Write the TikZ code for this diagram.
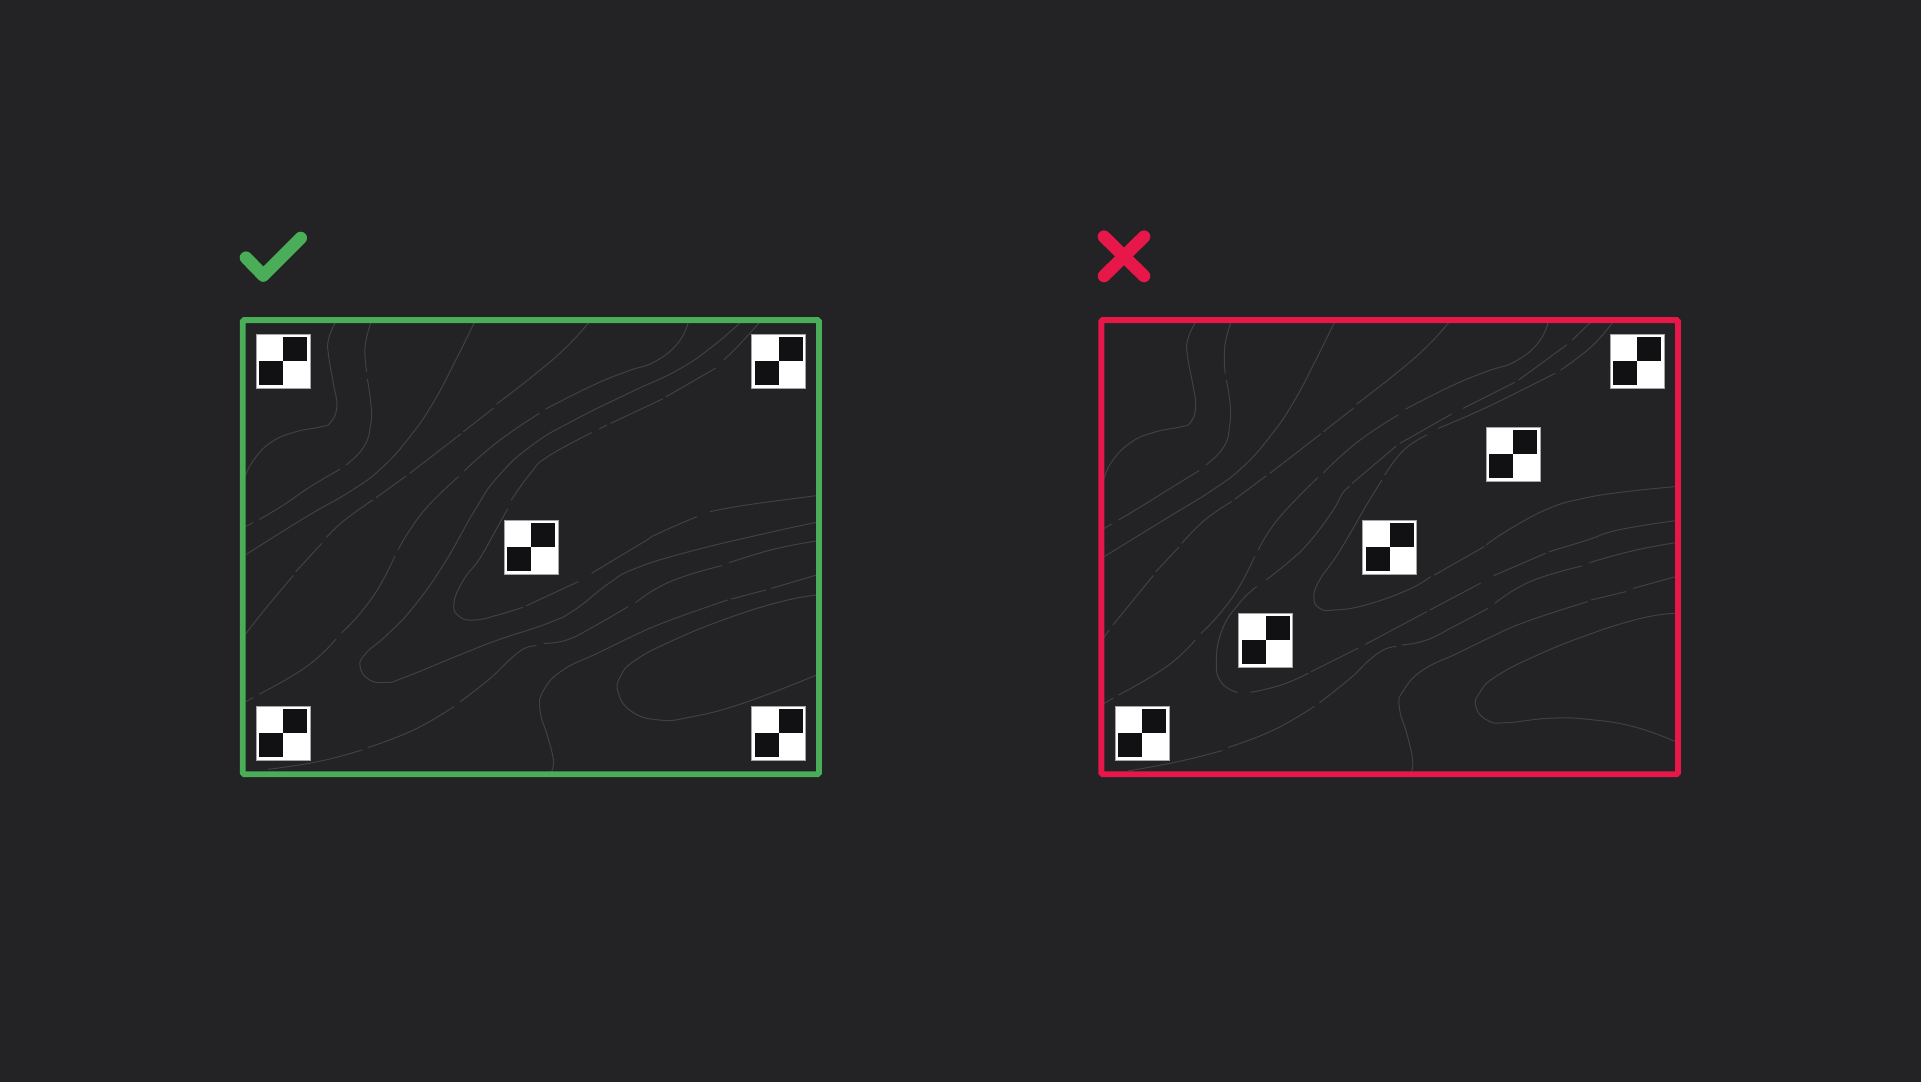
\documentclass[tikz,border=0pt]{standalone}
\definecolor{bgdark}{HTML}{232325}
\definecolor{okgreen}{HTML}{4AAD57}
\definecolor{badred}{HTML}{E7174A}
\definecolor{contourgray}{HTML}{414144}
\definecolor{cellblack}{HTML}{111114}
\tikzset{
  contour/.style={draw=contourgray, line width=1pt, line cap=round},
  frame/.style={line width=5.9pt, rounded corners=1.5pt},
  sign/.style={line width=12.6pt, line cap=round, line join=round},
  checker/.pic={
    \fill[white] (-27,-27) rectangle (27,27);
    \draw[gray!70, line width=0.4pt] (-27,-27) rectangle (27,27);
    \fill[cellblack] (0,-24) rectangle (24,0);
    \fill[cellblack] (-24,0) rectangle (0,24);
  }
}
\newcommand{\seg}[1]{\draw[contour] plot[smooth, tension=0.8] coordinates {#1};}
\begin{document}
\begin{tikzpicture}[x=1pt, y=-1pt]
\useasboundingbox (0,0) rectangle (1921,1081);
\fill[bgdark] (-5,-5) rectangle (1926,1086);
% left panel contours
\begin{scope}[shift={(230,310)}, xscale=0.3827, yscale=0.3333]
\seg{(275,38) (257,90) (258,140) (270,220) (279,290) (262,338) (235,351) (170,366) (110,395) (65,445) (40,497)}
\seg{(368,38) (353,110) (357,185)}
\seg{(359,208) (368,280) (368,340) (350,410) (303,465)}
\seg{(287,478) (210,530) (140,585) (77,628)}
\seg{(60,638) (40,650)}
\seg{(638,38) (590,150) (530,280) (470,380) (400,470) (320,540) (200,620) (40,735)}
\seg{(937,38) (880,110) (800,190) (697,282)}
\seg{(688,295) (610,365)}
\seg{(603,372) (470,490)}
\seg{(460,498) (382,563)}
\seg{(373,570) (300,630) (252,682)}
\seg{(240,700) (172,785)}
\seg{(165,797) (90,900) (40,973)}
\seg{(1197,38) (1170,100) (1110,155) (1040,183) (950,225) (825,297)}
\seg{(808,310) (700,395) (612,483)}
\seg{(597,500) (520,585) (470,660) (440,718)}
\seg{(431,738) (390,830) (340,910) (292,968)}
\seg{(277,987) (200,1070) (77,1152)}
\seg{(60,1163) (40,1176)}
\seg{(1333,38) (1260,110) (1170,180) (1050,245) (900,330) (790,405) (700,500) (640,600) (560,760) (480,890) (410,975) (355,1030) (340,1070) (365,1110) (410,1117) (450,1105) (600,1035) (700,990) (830,940) (900,900) (990,820) (1060,775) (1200,725) (1400,670) (1533,637)}
\seg{(1383,38) (1330,105) (1290,150)}
\seg{(1268,175) (1140,260)}
\seg{(1130,267) (995,340)}
\seg{(985,345) (965,357)}
\seg{(945,368) (830,440) (785,490) (735,570)}
\seg{(725,597) (690,670) (650,750) (610,810) (585,880) (600,920) (640,930) (700,915) (765,892)}
\seg{(775,887) (910,815)}
\seg{(945,790) (1075,700) (1120,670) (1220,620)}
\seg{(1255,605) (1350,585) (1533,557)}
\seg{(100,1378) (230,1355) (345,1320)}
\seg{(362,1312) (480,1260) (585,1190)}
\seg{(602,1175) (680,1105) (730,1050) (770,1015) (800,1008)}
\seg{(820,1000) (880,990) (950,950) (1040,890)}
\seg{(1060,878) (1150,815) (1285,767)}
\seg{(1305,758) (1420,718) (1533,693)}
\seg{(840,1385) (845,1350) (830,1280) (810,1200) (820,1140) (870,1080) (960,1030) (1040,985) (1140,935) (1300,870)}
\seg{(1310,867) (1400,840)}
\seg{(1415,835) (1533,795)}
\seg{(1533,855) (1440,875) (1300,925) (1160,990) (1060,1050) (1020,1100) (1015,1150) (1050,1205) (1120,1230) (1200,1222) (1340,1180) (1533,1095)}
\end{scope}
% right panel contours
\begin{scope}[shift={(1090,310)}, xscale=0.3827, yscale=0.3333]
\seg{(275,38) (255,90) (255,140) (268,220) (276,290) (262,338) (235,351) (170,366) (110,395) (60,450) (37,505)}
\seg{(368,38) (352,110) (353,190)}
\seg{(356,210) (366,280) (365,345) (350,410) (303,465)}
\seg{(285,482) (210,535) (140,585) (75,630)}
\seg{(57,642) (37,655)}
\seg{(638,38) (590,150) (530,280) (470,380) (400,470) (320,540) (200,625) (37,740)}
\seg{(937,38) (880,110) (800,190) (697,282)}
\seg{(688,295) (610,365)}
\seg{(603,372) (470,490)}
\seg{(460,498) (378,568)}
\seg{(370,575) (300,630) (240,700)}
\seg{(232,712) (172,785)}
\seg{(165,797) (60,945)}
\seg{(50,960) (37,982)}
\seg{(1197,38) (1170,100) (1110,155) (1040,183) (950,225) (825,297)}
\seg{(805,315) (700,395) (610,488)}
\seg{(595,503) (520,590) (470,660) (440,720)}
\seg{(430,740) (390,830) (340,910) (290,970)}
\seg{(275,990) (200,1070) (75,1155)}
\seg{(60,1165) (37,1180)}
\seg{(1307,38) (1260,90)}
\seg{(1245,105) (1120,210)}
\seg{(1110,217) (975,295)}
\seg{(945,312) (810,400)}
\seg{(800,408) (685,520)}
\seg{(678,530) (660,550) (630,610) (570,700) (520,755) (460,810)}
\seg{(435,830) (390,880) (345,960) (330,1060) (345,1120) (385,1147)}
\seg{(420,1147) (500,1125) (570,1090)}
\seg{(578,1085) (700,1015)}
\seg{(720,1003) (880,905)}
\seg{(888,900) (1020,820)}
\seg{(1055,797) (1190,730)}
\seg{(1200,725) (1300,690) (1380,660) (1530,632)}
\seg{(1365,38) (1310,110) (1230,180)}
\seg{(1215,190) (1040,290) (910,355)}
\seg{(880,375) (820,420) (770,495)}
\seg{(763,510) (720,590) (680,670) (640,745) (600,810) (585,860) (600,895) (640,900) (720,885) (830,840) (890,800)}
\seg{(900,795) (1030,710)}
\seg{(1035,705) (1100,655) (1200,595) (1290,565) (1400,545) (1530,530)}
\seg{(100,1383) (230,1355) (345,1322)}
\seg{(362,1312) (480,1260) (585,1190)}
\seg{(600,1178) (680,1105) (730,1050) (770,1018) (800,1010)}
\seg{(815,1005) (880,990) (950,950) (1040,895)}
\seg{(1058,880) (1150,815) (1285,768)}
\seg{(1305,758) (1420,722) (1530,698)}
\seg{(840,1385) (843,1350) (830,1280) (808,1190) (820,1140) (870,1080) (960,1030) (1040,985) (1140,935) (1300,875)}
\seg{(1310,870) (1400,845)}
\seg{(1420,835) (1530,800)}
\seg{(1530,910) (1440,925) (1300,975) (1160,1040) (1060,1100) (1020,1145) (1008,1190) (1040,1232) (1090,1238) (1200,1225) (1300,1228) (1420,1250) (1530,1295)}
\end{scope}
% frames
\draw[frame, okgreen] (242.7,320.1) rectangle (819,774.2);
\draw[frame, badred] (1101.3,320.1) rectangle (1678,774.2);
% signs
\draw[sign, okgreen] (246,257.7) -- (263.3,275.5) -- (300.7,238);
\draw[sign, badred] (1104,236.7) -- (1144,276);
\draw[sign, badred] (1144,236.7) -- (1104,276);
% left markers
\pic at (283.3,361.3) {checker};
\pic at (778.6,361.3) {checker};
\pic at (531.2,547) {checker};
\pic at (283.3,733) {checker};
\pic at (778.6,733) {checker};
% right markers
\pic at (1637,361.3) {checker};
\pic at (1513.3,454.2) {checker};
\pic at (1389.5,547) {checker};
\pic at (1265.5,640) {checker};
\pic at (1141.7,733) {checker};
\end{tikzpicture}
\end{document}
